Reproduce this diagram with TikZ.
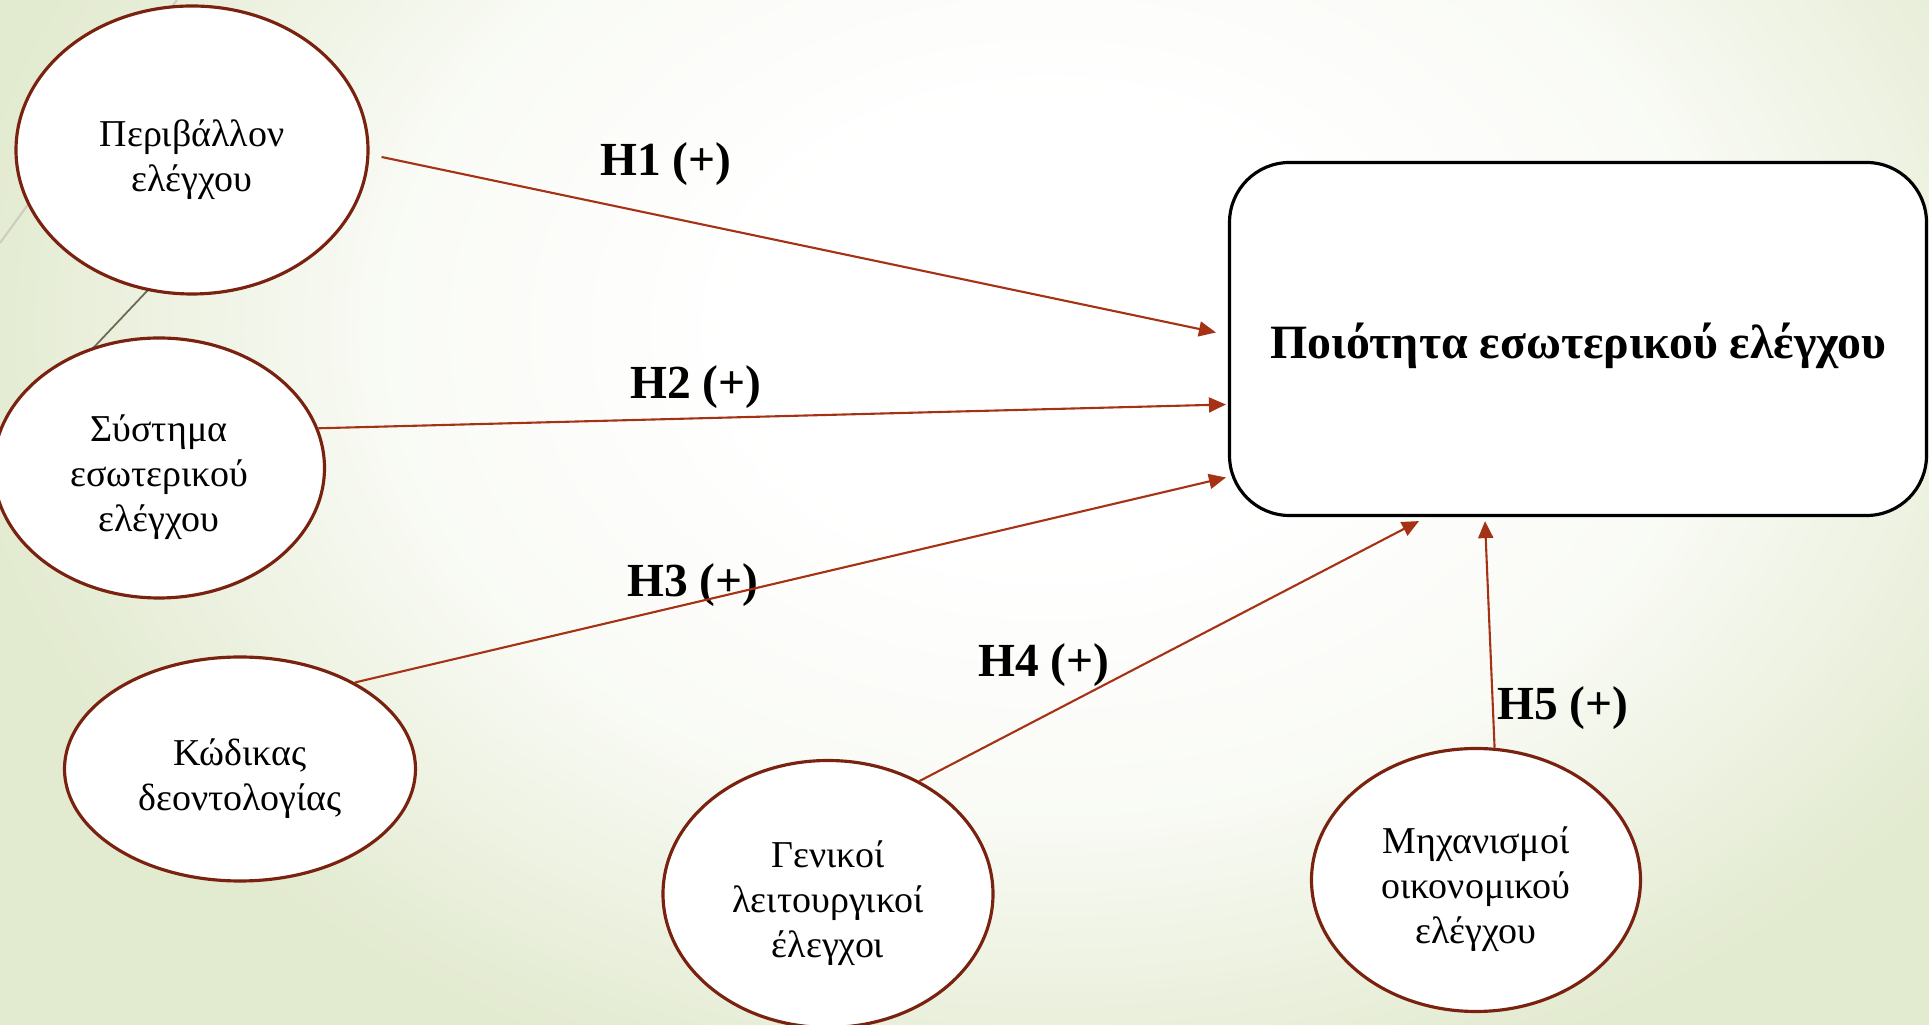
\documentclass[tikz,border=0pt]{standalone}
\usepackage{fontspec}
\setmainfont{Liberation Serif}
\usepackage{tikz}
\usetikzlibrary{arrows.meta}
\usetikzlibrary{shapes}
\usetikzlibrary{positioning}

\definecolor{bggreen}{RGB}{226,234,207}
\colorlet{bgmid}{white!80!bggreen}
\definecolor{ringred}{RGB}{122,34,16}
\definecolor{arrowred}{RGB}{166,50,22}
\definecolor{wisp}{RGB}{205,205,192}
\definecolor{wispdark}{RGB}{110,104,84}
\pgfdeclareradialshading{bgglow}{\pgfpoint{0bp}{0bp}}{color(0bp)=(white); color(7bp)=(white); color(15bp)=(bgmid); color(25bp)=(bggreen); color(50bp)=(bggreen)}
\newcommand{\ellstrut}{\rule{0pt}{13pt}}

\begin{document}
\begin{tikzpicture}[x=0.1mm,y=-0.1mm,
                factor/.style={ellipse, draw=ringred, line width=0.9pt, fill=white, inner sep=0pt, align=center, font=\fontsize{10.8}{12.8}\selectfont},
                target/.style={rectangle, rounded corners=6mm, draw=black, line width=0.9pt, fill=white, minimum width=69.7mm, minimum height=35.3mm, font=\fontsize{13.6}{16}\selectfont\bfseries, execute at begin node={\rule{0pt}{14pt}}},
                hyp/.style={font=\fontsize{13.5}{16}\selectfont\bfseries, inner sep=0pt},
                arrow/.style={draw=arrowred, line width=0.6pt, -{Triangle[length=1.7mm,width=1.5mm]}}
            ]
            \useasboundingbox (0,0) rectangle (1929,1025);
            % background
            \begin{scope}
                \clip (0,0) rectangle (1929,1025);
                \shade[shading=bgglow] (-50,-470) rectangle (2150,1130);
                \draw[wisp, line width=0.6pt] (177,0) -- (0,243);
                \draw[wispdark, line width=0.5pt] (165,272) -- (80,362);
            \end{scope}
            % factors
            \node[factor, minimum width=35.2mm, minimum height=28.8mm] (env) at (192,150) {\ellstrut Περιβάλλον\\ελέγχου};
            \node[factor, minimum width=33.1mm, minimum height=26mm] (sys) at (159,468) {\ellstrut Σύστημα\\εσωτερικού\\ελέγχου};
            \node[factor, minimum width=35.1mm, minimum height=22.4mm] (code) at (240,769) {\ellstrut Κώδικας\\δεοντολογίας};
            \node[factor, minimum width=33mm, minimum height=26.7mm] (gen) at (828,894) {\ellstrut Γενικοί\\λειτουργικοί\\έλεγχοι};
            \node[factor, minimum width=32.9mm, minimum height=26.3mm] (fin) at (1476,880) {\ellstrut Μηχανισμοί\\οικονομικού\\ελέγχου};
            \node[target] (quality) at (1578,339) {Ποιότητα εσωτερικού ελέγχου};
            % hypotheses
            \node[hyp] (h1) at (666,164) {H1 (+)};
            \node[hyp] (h2) at (696,387) {H2 (+)};
            \node[hyp] (h3) at (693,585) {H3 (+)};
            \node[hyp] (h4) at (1044,665) {H4 (+)};
            \node[hyp] (h5) at (1563,708) {H5 (+)};
            \path[arrow] ([shift={(1.2mm,-0.7mm)}]env.east) -- ([shift={(-1.2mm,0.65mm)}]quality.west);
            \path[arrow] (sys.14) -- ([shift={(-0.2mm,-6.55mm)}]quality.west);
            \path[arrow] (code.37) -- ([shift={(-0.2mm,-13.85mm)}]quality.west);
            \path[arrow] (gen.51) -- ([shift={(-15.9mm,-0.4mm)}]quality.south);
            \path[arrow] (fin.82) -- ([shift={(-9.3mm,-0.4mm)}]quality.south);
        \end{tikzpicture}
\end{document}
